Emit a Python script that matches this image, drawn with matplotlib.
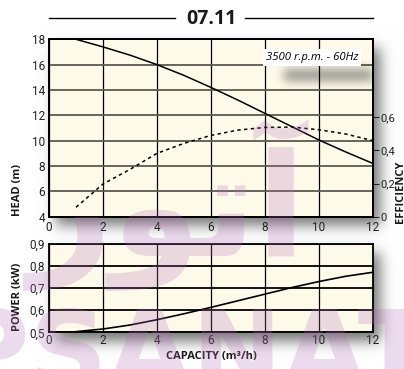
import numpy as np
import matplotlib.pyplot as plt
from matplotlib.lines import Line2D

# pump curve readings, capacity in m3/h
capacity = [1, 2, 3, 4, 5, 6, 7, 8, 9, 10, 11, 12]
head = [18.0, 17.4, 16.75, 16.0, 15.15, 14.2, 13.2, 12.15, 11.1, 10.05, 9.1, 8.2]
efficiency = [0.057, 0.197, 0.285, 0.382, 0.442, 0.49, 0.522, 0.538, 0.54, 0.524, 0.498, 0.458]
power = [0.503, 0.515, 0.533, 0.557, 0.584, 0.613, 0.643, 0.673, 0.703, 0.73, 0.754, 0.772]

x_ticks = [0, 2, 4, 6, 8, 10, 12]
head_ticks = [4, 6, 8, 10, 12, 14, 16, 18]
eff_ticks = [0, 0.2, 0.4, 0.6]
eff_labels = ['0', '0,2', '0,4', '0,6']
power_ticks = [0.5, 0.6, 0.7, 0.8, 0.9]
power_labels = ['0,5', '0,6', '0,7', '0,8', '0,9']

W, H = 404, 369
fig = plt.figure(figsize=(W / 100, H / 100), dpi=100)

tick_font = ['Liberation Sans Narrow', 'Roboto', 'DejaVu Sans']
label_font = ['Open Sans', 'DejaVu Sans']
face = '#fdfaea'


def blur(a, sigma):
    r = int(3 * sigma)
    k = np.exp(-0.5 * (np.arange(-r, r + 1) / sigma) ** 2)
    k /= k.sum()
    a = np.apply_along_axis(lambda v: np.convolve(v, k, mode='same'), 0, a)
    a = np.apply_along_axis(lambda v: np.convolve(v, k, mode='same'), 1, a)
    return a


def px_rect(x0, y0, x1, y1):
    return [x0 / W, 1 - y1 / H, (x1 - x0) / W, (y1 - y0) / H]


top_px = (49, 39.3, 373, 216.7)
bot_px = (49, 244, 373, 332.3)

# drop shadows behind both panels
mask = np.zeros((H, W))
for x0, y0, x1, y1 in (top_px, bot_px):
    mask[int(y0) + 9:int(y1) + 9, int(x0) + 7:int(x1) + 7] = 1
shade = 1 - 0.55 * blur(mask, 7)
bg = fig.add_axes([0, 0, 1, 1], zorder=-10)
bg.imshow(np.dstack([shade] * 3), extent=(0, W, H, 0), aspect='auto')
bg.axis('off')


def style(ax, hgrid):
    ax.set_facecolor(face)
    ax.xaxis.grid(True, color='k', lw=0.9)
    ax.yaxis.grid(True, color=hgrid, lw=1.3)
    ax.set_axisbelow(True)
    for s in ax.spines.values():
        s.set_linewidth(1.3)
    ax.tick_params(length=0, pad=3, labelsize=8.5, colors='#222222')
    for t in ax.get_xticklabels() + ax.get_yticklabels():
        t.set_family(tick_font)


# HEAD / EFFICIENCY panel
ax = fig.add_axes(px_rect(*top_px))
ax.plot(capacity, head, color='k', lw=1.1, zorder=3)
ax.set_xlim(0, 12)
ax.set_ylim(4, 18)
ax.set_xticks(x_ticks)
ax.set_yticks(head_ticks)
style(ax, '#5c5a50')

# soft shadow under the speed label box
sx0, sx1, sy0, sy1 = 262, 373, 55, 100
sm = np.zeros((sy1 - sy0, sx1 - sx0))
sm[14:26, 22:] = 1
sm = blur(sm, 5)
rgba = np.zeros(sm.shape + (4,))
rgba[..., 3] = 0.4 * sm
to_q = lambda x: (x - top_px[0]) / (top_px[2] - top_px[0]) * 12
to_h = lambda y: 18 - (y - top_px[1]) / (top_px[3] - top_px[1]) * 14
ax.imshow(rgba, extent=(to_q(sx0), to_q(sx1), to_h(sy1), to_h(sy0)),
          aspect='auto', zorder=2)
ax.set_xlim(0, 12)
ax.set_ylim(4, 18)
ax.text(to_q(312), to_h(57.5), '3500 r.p.m. - 60Hz', style='italic',
        family=label_font, fontsize=8.2, ha='center', va='center', zorder=5,
        bbox=dict(facecolor='white', edgecolor='none', pad=2.2))

ax2 = ax.twinx()
ax2.plot(capacity, efficiency, color='k', lw=1.1, ls=(0, (2.2, 2.2)))
ax2.set_ylim(0, 1.069)
ax2.set_yticks(eff_ticks)
ax2.set_yticklabels(eff_labels, family=tick_font)
ax2.tick_params(axis='y', length=4, width=0.8, pad=1, labelsize=8, colors='#222222')
for s in ax2.spines.values():
    s.set_linewidth(1.3)

# POWER panel
bx = fig.add_axes(px_rect(*bot_px))
bx.plot(capacity, power, color='k', lw=1.2, zorder=3)
bx.set_xlim(0, 12)
bx.set_ylim(0.5, 0.9)
bx.set_xticks(x_ticks)
bx.set_yticks(power_ticks)
bx.set_yticklabels(power_labels)
style(bx, 'k')
bx.tick_params(axis='x', pad=1)

# axis titles
lab = dict(family=label_font, fontweight='bold', fontsize=8, color='#1a1a1a',
           ha='center', va='center')
fig.text(17.5 / W, 1 - 190 / H, 'HEAD (m)', rotation=90, **lab)
fig.text(17.5 / W, 1 - 297 / H, 'POWER (kW)', rotation=90, **lab)
fig.text(400 / W, 1 - 192 / H, 'EFFICIENCY', rotation=90, **lab)
fig.text(211 / W, 1 - 356 / H, 'CAPACITY (m³/h)', **lab)

# model number header
fig.text(211 / W, 1 - 19 / H, '07.11', family=label_font, fontweight='bold',
         fontsize=14, ha='center', va='center', color='#1a1a1a')
for xa, xb in ((49, 175), (245, 373)):
    fig.add_artist(Line2D([xa / W, xb / W], [1 - 17.5 / H] * 2, color='k', lw=1))

# watermark
wm = dict(color='#b36bb8', alpha=0.24, fontweight='bold', family='DejaVu Sans', zorder=10)
fig.text(-50 / W, 1 - 388 / H, 'PSANAT', fontsize=78, ha='left', va='baseline', **wm)
fig.text(168 / W, 1 - 205 / H, '\uFEAD\uFEEE\uFE97\uFE81', fontsize=104,
         ha='center', va='center', **wm)

fig.savefig('out.png', dpi=100)
